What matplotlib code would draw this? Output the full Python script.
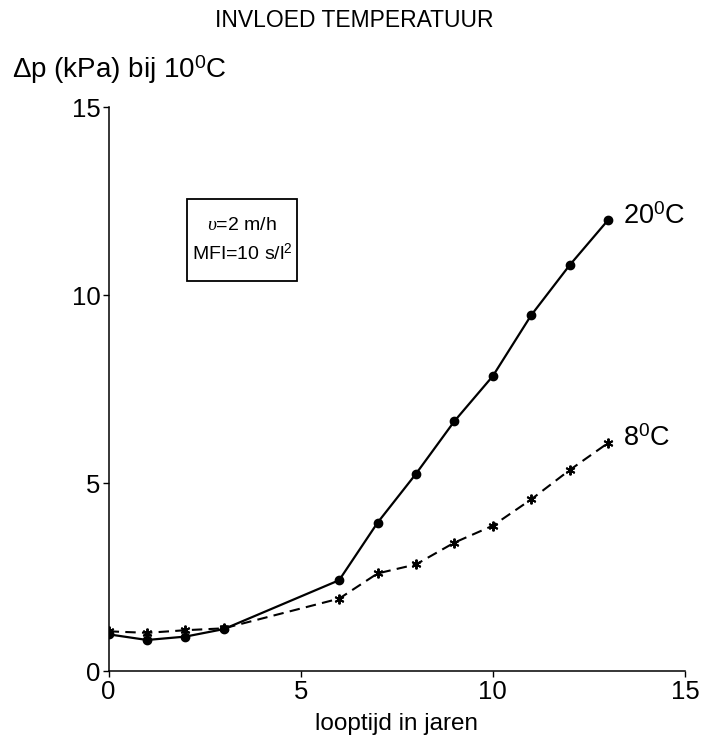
import numpy as np
import matplotlib.pyplot as plt
from matplotlib.patches import Rectangle

plt.rcParams['font.family'] = ['Liberation Sans', 'DejaVu Sans']
plt.rcParams['mathtext.fontset'] = 'custom'
plt.rcParams['mathtext.rm'] = 'Liberation Sans'
plt.rcParams['mathtext.it'] = 'Liberation Serif:italic'

# data
jaren = [0, 1, 2, 3, 6, 7, 8, 9, 10, 11, 12, 13]
dp_20 = [0.98, 0.83, 0.92, 1.12, 2.42, 3.95, 5.25, 6.65, 7.85, 9.47, 10.8, 12.0]
dp_8 = [1.06, 1.02, 1.09, 1.14, 1.93, 2.6, 2.84, 3.42, 3.87, 4.57, 5.35, 6.07]
ticks = [0, 5, 10, 15]

fig = plt.figure(figsize=(7.01, 7.40), dpi=100)
ax = fig.add_axes([0.155, 0.093, 0.822, 0.762])

ax.plot(jaren, dp_20, '-', color='black', lw=1.6, marker='o', ms=6)
ax.plot(jaren, dp_8, color='black', lw=1.5, ls=(0, (5, 3)),
        marker=(6, 2, 0), ms=7, mew=1.4)

ax.text(jaren[-1] + 0.4, dp_20[-1] + 0.1, '20$^{0}$C', fontsize=19.5, va='center', ha='left')
ax.text(jaren[-1] + 0.4, dp_8[-1] + 0.1, '8$^{0}$C', fontsize=19.5, va='center', ha='left')

# kader met condities
ax.add_patch(Rectangle((2.03, 10.37), 2.87, 2.18, fill=False, ec='black', lw=1.3))
ax.text(3.47, 11.46, '$\\mathit{\\upsilon}$=2 m/h\nMFI=10 s/l$^2$', fontsize=14,
        ha='center', va='center', linespacing=1.5)

ax.set_xlim(0, 15)
ax.set_ylim(0, 15)
ax.set_xticks(ticks)
ax.set_yticks(ticks)
ax.tick_params(labelsize=18.5, direction='out', length=4, width=1, pad=2)
for s in ['top', 'right']:
    ax.spines[s].set_visible(False)
for s in ['left', 'bottom']:
    ax.spines[s].set_linewidth(1.1)

ax.set_xlabel('looptijd in jaren', fontsize=17.5, labelpad=7)
fig.text(0.017, 0.905, '$\\Delta$p (kPa) bij 10$^{0}$C', fontsize=20, ha='left', va='center')
fig.text(0.505, 0.972, 'INVLOED TEMPERATUUR', fontsize=16.5, ha='center', va='center')

fig.savefig('out.png', dpi=100)
